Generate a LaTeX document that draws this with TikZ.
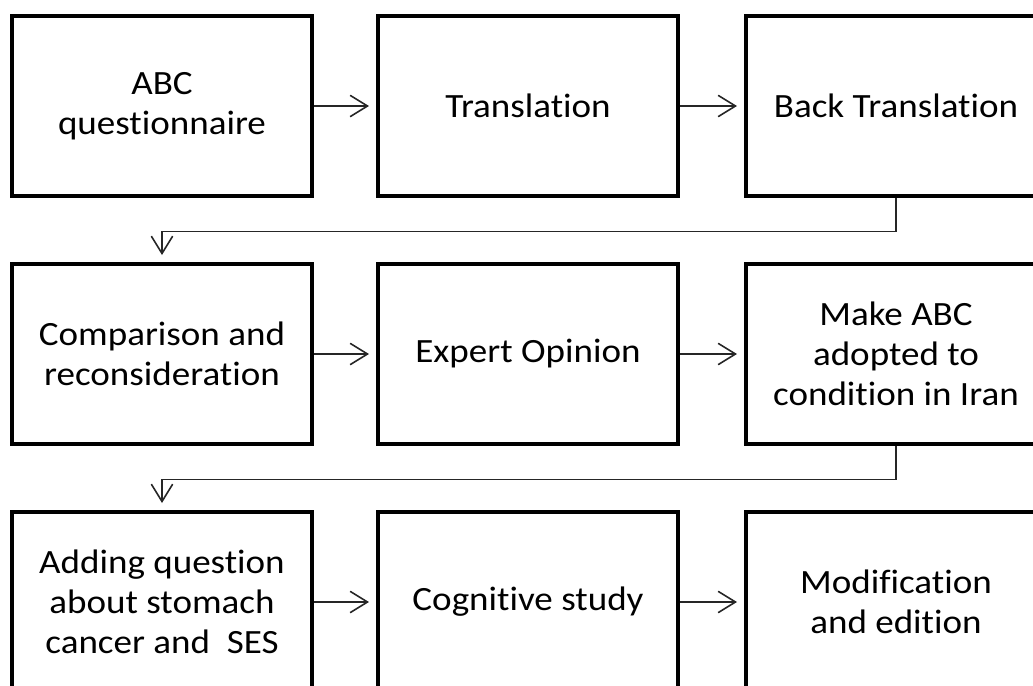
\documentclass[tikz,border=0pt]{standalone}
\usepackage{fontspec}
\setmainfont{Carlito}[FakeStretch=1.09, RawFeature={-liga;-clig;-calt}]
\usetikzlibrary{arrows.meta}

\begin{document}
\begin{tikzpicture}[
    x=0.75pt, y=-0.75pt,
    stage/.style={rectangle, draw=black, fill=white, line width=3.5pt,
                  minimum width=225pt, minimum height=135pt, align=center,
                  font=\fontsize{25.5}{30}\selectfont},
    flow/.style={-{Straight Barb[length=13pt, width=16pt, line width=1.2pt]},
                 line width=1.2pt, draw=black!85, shorten >=5pt}
]

% Bildausschnitt
\useasboundingbox (0,0) rectangle (1033,686);
\clip (0,0) rectangle (1033,686);

% Erste Reihe
\node[stage] at (162,106) (abc) {ABC\\questionnaire};
\node[stage] at (528,106) (transl) {Translation};
\node[stage] at (896,106) (back) {Back Translation};

% Zweite Reihe
\node[stage] at (162,354) (compare) {Comparison and\\reconsideration};
\node[stage] at (528,354) (expert) {Expert Opinion};
\node[stage] at (896,354) (adapt) {Make ABC\\adopted to\\condition in Iran};

% Dritte Reihe
\node[stage] at (162,602) (adding) {Adding question\\about stomach\\cancer and~ SES};
\node[stage] at (528,602) (cognit) {Cognitive study};
\node[stage] at (896,602) (modif) {Modification\\and edition};

% Verbindungen
\draw[flow] (abc.east) -- (transl.west);
\draw[flow] (transl.east) -- (back.west);
\draw[flow] (back.south) -- ++(0,33) -| (compare.north);

\draw[flow] (compare.east) -- (expert.west);
\draw[flow] (expert.east) -- (adapt.west);
\draw[flow] (adapt.south) -- ++(0,33) -| (adding.north);

\draw[flow] (adding.east) -- (cognit.west);
\draw[flow] (cognit.east) -- (modif.west);

\end{tikzpicture}
\end{document}
